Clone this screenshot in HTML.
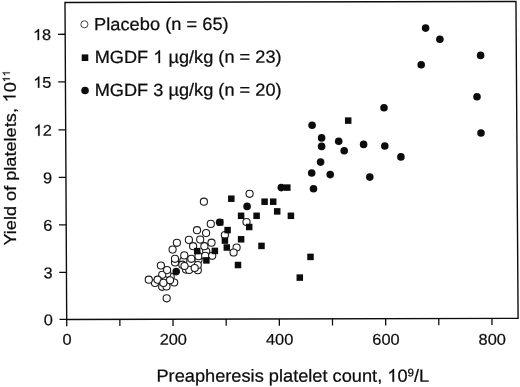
<!DOCTYPE html>
<html><head><meta charset="utf-8"><title>Yield of platelets</title>
<style>html,body{margin:0;padding:0;background:#fff}body{width:520px;height:387px;overflow:hidden}svg{display:block;font-family:"Liberation Sans",sans-serif;will-change:transform}.h{fill:none;stroke:none}</style></head><body>
<svg width="520" height="387" viewBox="0 0 520 387">
<rect width="520" height="387" fill="#fff"/>
<polygon points="65.0,2.5 515.95,1.45 518.1,318.3 66.7,319.45" fill="none" stroke="#0c0c0c" stroke-width="1.38" stroke-linejoin="miter"/>
<g stroke="#0c0c0c" stroke-width="1.28">
<line x1="59.50" y1="319.47" x2="66.70" y2="319.45"/>
<line x1="59.25" y1="272.32" x2="66.45" y2="272.30"/>
<line x1="58.99" y1="224.87" x2="66.19" y2="224.85"/>
<line x1="58.74" y1="177.42" x2="65.94" y2="177.40"/>
<line x1="58.48" y1="129.92" x2="65.68" y2="129.90"/>
<line x1="58.23" y1="81.82" x2="65.43" y2="81.80"/>
<line x1="57.97" y1="34.27" x2="65.17" y2="34.25"/>
<line x1="66.70" y1="319.45" x2="66.73" y2="326.20"/>
<line x1="119.86" y1="319.31" x2="119.89" y2="326.06"/>
<line x1="173.01" y1="319.18" x2="173.04" y2="325.93"/>
<line x1="226.17" y1="319.04" x2="226.20" y2="325.79"/>
<line x1="279.33" y1="318.91" x2="279.36" y2="325.66"/>
<line x1="332.48" y1="318.77" x2="332.51" y2="325.52"/>
<line x1="385.64" y1="318.64" x2="385.67" y2="325.39"/>
<line x1="438.79" y1="318.50" x2="438.82" y2="325.25"/>
<line x1="491.95" y1="318.37" x2="491.98" y2="325.12"/>
</g>
<g fill="#0c0c0c" stroke="#0c0c0c" stroke-width="0.22" font-size="16.4">
<text transform="translate(52.85,325.30) rotate(-0.04) scale(1,0.95)" text-anchor="end">0</text>
<text transform="translate(52.58,278.15) rotate(-0.04) scale(1,0.95)" text-anchor="end">3</text>
<text transform="translate(52.31,230.70) rotate(-0.04) scale(1,0.95)" text-anchor="end">6</text>
<text transform="translate(52.03,183.25) rotate(-0.04) scale(1,0.95)" text-anchor="end">9</text>
<text transform="translate(51.76,135.75) rotate(-0.04) scale(1,0.95)" text-anchor="end"><tspan class="h">1</tspan>2</text>
<text transform="translate(51.48,87.65) rotate(-0.04) scale(1,0.95)" text-anchor="end"><tspan class="h">1</tspan>5</text>
<text transform="translate(51.20,40.10) rotate(-0.04) scale(1,0.95)" text-anchor="end"><tspan class="h">1</tspan>8</text>
<text transform="translate(67.00,344.75) rotate(-0.04) scale(1,0.95)" text-anchor="middle">0</text>
<text transform="translate(173.31,344.75) rotate(-0.04) scale(1,0.95)" text-anchor="middle">200</text>
<text transform="translate(279.63,344.75) rotate(-0.04) scale(1,0.95)" text-anchor="middle">400</text>
<text transform="translate(385.94,344.75) rotate(-0.04) scale(1,0.95)" text-anchor="middle">600</text>
<text transform="translate(492.25,344.75) rotate(-0.04) scale(1,0.95)" text-anchor="middle">800</text>
</g>
<g fill="#fff" stroke="#1a1a1a" stroke-width="1.08">
<circle cx="155.0" cy="283.0" r="3.58"/>
<circle cx="162.2" cy="286.8" r="3.58"/>
<circle cx="166.5" cy="286.4" r="3.58"/>
<circle cx="174.2" cy="282.5" r="3.58"/>
<circle cx="170.7" cy="276.8" r="3.58"/>
<circle cx="167.4" cy="273.6" r="3.58"/>
<circle cx="162.2" cy="274.8" r="3.58"/>
<circle cx="175.0" cy="262.4" r="3.58"/>
<circle cx="183.3" cy="260.8" r="3.58"/>
<circle cx="182.3" cy="264.7" r="3.58"/>
<circle cx="198.5" cy="259.8" r="3.58"/>
<circle cx="186.0" cy="269.6" r="3.58"/>
<circle cx="148.8" cy="279.7" r="3.58"/>
<circle cx="160.9" cy="265.5" r="3.58"/>
<circle cx="157.6" cy="279.7" r="3.58"/>
<circle cx="167.1" cy="270.1" r="3.58"/>
<circle cx="170.0" cy="280.3" r="3.58"/>
<circle cx="163.4" cy="282.9" r="3.58"/>
<circle cx="166.7" cy="298.3" r="3.58"/>
<circle cx="172.6" cy="249.6" r="3.58"/>
<circle cx="176.9" cy="242.8" r="3.58"/>
<circle cx="191.3" cy="258.8" r="3.58"/>
<circle cx="175.0" cy="258.8" r="3.58"/>
<circle cx="184.3" cy="255.4" r="3.58"/>
<circle cx="189.2" cy="269.9" r="3.58"/>
<circle cx="184.5" cy="266.0" r="3.58"/>
<circle cx="197.8" cy="270.2" r="3.58"/>
<circle cx="197.8" cy="265.1" r="3.58"/>
<circle cx="194.7" cy="268.0" r="3.58"/>
<circle cx="198.5" cy="256.2" r="3.58"/>
<circle cx="206.2" cy="251.3" r="3.58"/>
<circle cx="205.2" cy="255.8" r="3.58"/>
<circle cx="212.2" cy="255.8" r="3.58"/>
<circle cx="188.9" cy="239.9" r="3.58"/>
<circle cx="200.2" cy="239.6" r="3.58"/>
<circle cx="193.1" cy="246.2" r="3.58"/>
<circle cx="204.4" cy="246.2" r="3.58"/>
<circle cx="211.5" cy="242.7" r="3.58"/>
<circle cx="197.0" cy="230.2" r="3.58"/>
<circle cx="206.1" cy="233.1" r="3.58"/>
<circle cx="210.8" cy="223.9" r="3.58"/>
<circle cx="203.9" cy="201.7" r="3.58"/>
<circle cx="249.6" cy="193.8" r="3.58"/>
<circle cx="246.5" cy="222.0" r="3.58"/>
<circle cx="224.9" cy="235.1" r="3.58"/>
<circle cx="236.6" cy="247.5" r="3.58"/>
<circle cx="233.6" cy="252.5" r="3.58"/>
</g>
<g fill="#0c0c0c">
<rect x="193.95" y="247.85" width="6.5" height="6.5"/>
<rect x="211.60" y="247.65" width="6.5" height="6.5"/>
<rect x="203.15" y="257.15" width="6.5" height="6.5"/>
<rect x="228.05" y="195.45" width="6.5" height="6.5"/>
<rect x="261.35" y="198.45" width="6.5" height="6.5"/>
<rect x="237.85" y="212.55" width="6.5" height="6.5"/>
<rect x="253.35" y="212.55" width="6.5" height="6.5"/>
<rect x="245.95" y="223.75" width="6.5" height="6.5"/>
<rect x="216.95" y="219.15" width="6.5" height="6.5"/>
<rect x="224.35" y="226.85" width="6.5" height="6.5"/>
<rect x="221.65" y="237.35" width="6.5" height="6.5"/>
<rect x="237.85" y="236.05" width="6.5" height="6.5"/>
<rect x="223.55" y="244.25" width="6.5" height="6.5"/>
<rect x="258.25" y="242.65" width="6.5" height="6.5"/>
<rect x="234.75" y="261.75" width="6.5" height="6.5"/>
<rect x="344.95" y="117.35" width="6.5" height="6.5"/>
<rect x="284.05" y="184.35" width="6.5" height="6.5"/>
<rect x="269.95" y="198.45" width="6.5" height="6.5"/>
<rect x="273.95" y="208.15" width="6.5" height="6.5"/>
<rect x="287.65" y="212.55" width="6.5" height="6.5"/>
<rect x="307.25" y="253.65" width="6.5" height="6.5"/>
<rect x="296.55" y="274.35" width="6.5" height="6.5"/>
<circle cx="176.2" cy="271.6" r="3.8"/>
<circle cx="219.6" cy="222.2" r="3.8"/>
<circle cx="247.1" cy="206.4" r="3.8"/>
<circle cx="281.3" cy="187.6" r="3.8"/>
<circle cx="312.1" cy="125.2" r="3.8"/>
<circle cx="321.6" cy="137.9" r="3.8"/>
<circle cx="321.6" cy="146.4" r="3.8"/>
<circle cx="338.7" cy="141.3" r="3.8"/>
<circle cx="344.2" cy="150.8" r="3.8"/>
<circle cx="320.6" cy="162.1" r="3.8"/>
<circle cx="311.7" cy="173.0" r="3.8"/>
<circle cx="330.2" cy="174.6" r="3.8"/>
<circle cx="313.5" cy="188.8" r="3.8"/>
<circle cx="384.0" cy="107.7" r="3.8"/>
<circle cx="363.6" cy="144.4" r="3.8"/>
<circle cx="384.8" cy="146.0" r="3.8"/>
<circle cx="400.9" cy="156.9" r="3.8"/>
<circle cx="369.8" cy="177.1" r="3.8"/>
<circle cx="425.6" cy="28.1" r="3.8"/>
<circle cx="439.9" cy="39.2" r="3.8"/>
<circle cx="480.6" cy="55.4" r="3.8"/>
<circle cx="421.2" cy="64.8" r="3.8"/>
<circle cx="477.0" cy="96.7" r="3.8"/>
<circle cx="481.0" cy="133.0" r="3.8"/>
</g>
<circle cx="84.4" cy="24.3" r="3.55" fill="#fff" stroke="#333" stroke-width="0.9"/>
<rect x="81.7" y="54.4" width="6.6" height="6.6" fill="#0c0c0c"/>
<circle cx="85.05" cy="90.45" r="3.8" fill="#0c0c0c"/>
<g fill="#0c0c0c" stroke="#0c0c0c" stroke-width="0.25">
<text font-size="18.28" transform="translate(94.05,30.2) rotate(-0.12) scale(1,0.97)">Placebo (n = 65)</text>
<text font-size="18.21" transform="translate(94.65,63.1) rotate(-0.1) scale(1,0.97)">MGDF <tspan class="h">1</tspan> µg/kg (n = 23)</text>
<text font-size="18.21" transform="translate(94.65,96.0) rotate(-0.1) scale(1,0.97)">MGDF 3 µg/kg (n = 20)</text>
</g>
<text transform="translate(156.45,381.85) rotate(-0.03) scale(1,0.966)" fill="#0c0c0c" stroke="#0c0c0c" stroke-width="0.25" font-size="18.22">Preapheresis platelet count, <tspan class="h">1</tspan>0<tspan font-size="11.6" dy="-5.5">9</tspan><tspan dy="5.5">/L</tspan></text>
<text transform="translate(15.5,245.6) rotate(-89.98) scale(1,0.95)" fill="#0c0c0c" stroke="#0c0c0c" stroke-width="0.25" font-size="18.15">Y<tspan dx="-0.7">ield of platelets</tspan><tspan dx="0.2">,</tspan><tspan dx="0.5"> </tspan><tspan class="h">1</tspan>0<tspan font-size="10.6" dy="-6"><tspan class="h">1</tspan><tspan class="h">1</tspan></tspan></text>
<g transform="translate(51.76,135.75) rotate(-0.04) scale(1,0.95)"><path transform="translate(-18.231,0.000) scale(0.008008,-0.008008)" d="M763 0H583V1147Q518 1085 412.5 1023Q307 961 223 930V1104Q374 1175 487 1276Q600 1377 647 1472H763Z" fill="#0c0c0c" stroke="#0c0c0c" stroke-width="31.2"/></g>
<g transform="translate(51.48,87.65) rotate(-0.04) scale(1,0.95)"><path transform="translate(-18.231,0.000) scale(0.008008,-0.008008)" d="M763 0H583V1147Q518 1085 412.5 1023Q307 961 223 930V1104Q374 1175 487 1276Q600 1377 647 1472H763Z" fill="#0c0c0c" stroke="#0c0c0c" stroke-width="31.2"/></g>
<g transform="translate(51.20,40.10) rotate(-0.04) scale(1,0.95)"><path transform="translate(-18.231,0.000) scale(0.008008,-0.008008)" d="M763 0H583V1147Q518 1085 412.5 1023Q307 961 223 930V1104Q374 1175 487 1276Q600 1377 647 1472H763Z" fill="#0c0c0c" stroke="#0c0c0c" stroke-width="31.2"/></g>
<g transform="translate(94.65,63.1) rotate(-0.1) scale(1,0.97)"><path transform="translate(58.623,0.000) scale(0.008892,-0.008892)" d="M763 0H583V1147Q518 1085 412.5 1023Q307 961 223 930V1104Q374 1175 487 1276Q600 1377 647 1472H763Z" fill="#0c0c0c" stroke="#0c0c0c" stroke-width="28.1"/></g>
<g transform="translate(156.45,381.85) rotate(-0.03) scale(1,0.966)"><path transform="translate(230.844,0.000) scale(0.008896,-0.008896)" d="M763 0H583V1147Q518 1085 412.5 1023Q307 961 223 930V1104Q374 1175 487 1276Q600 1377 647 1472H763Z" fill="#0c0c0c" stroke="#0c0c0c" stroke-width="28.1"/></g>
<g transform="translate(15.5,245.6) rotate(-89.98) scale(1,0.95)"><path transform="translate(143.190,0.000) scale(0.008862,-0.008862)" d="M763 0H583V1147Q518 1085 412.5 1023Q307 961 223 930V1104Q374 1175 487 1276Q600 1377 647 1472H763Z" fill="#0c0c0c" stroke="#0c0c0c" stroke-width="28.2"/></g>
<g transform="translate(15.5,245.6) rotate(-89.98) scale(1,0.95)"><path transform="translate(163.376,-6.000) scale(0.005176,-0.005176)" d="M763 0H583V1147Q518 1085 412.5 1023Q307 961 223 930V1104Q374 1175 487 1276Q600 1377 647 1472H763Z" fill="#0c0c0c" stroke="#0c0c0c" stroke-width="48.3"/></g>
<g transform="translate(15.5,245.6) rotate(-89.98) scale(1,0.95)"><path transform="translate(169.271,-6.000) scale(0.005176,-0.005176)" d="M763 0H583V1147Q518 1085 412.5 1023Q307 961 223 930V1104Q374 1175 487 1276Q600 1377 647 1472H763Z" fill="#0c0c0c" stroke="#0c0c0c" stroke-width="48.3"/></g>
</svg></body></html>
